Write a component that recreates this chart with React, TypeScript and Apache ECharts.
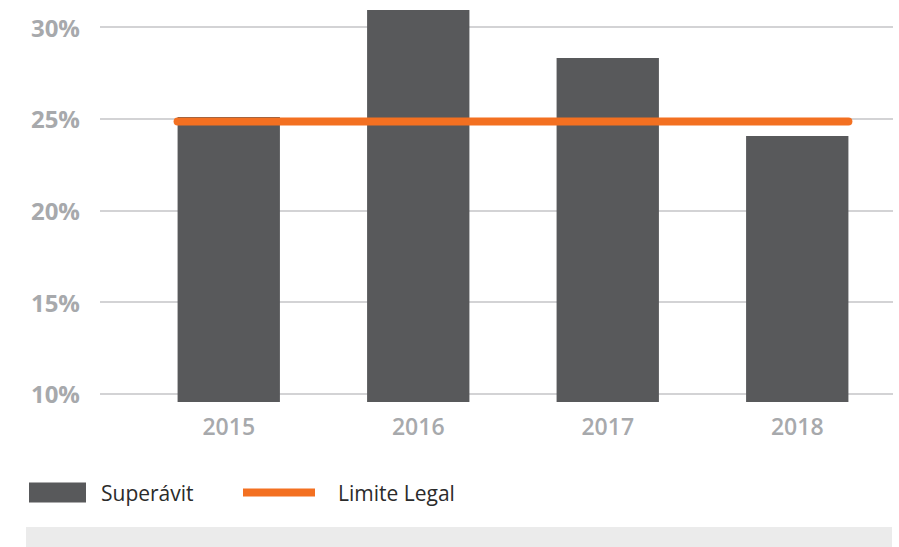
import React, { useEffect, useRef } from "react";
import * as echarts from "echarts";

const categories = ["2015", "2016", "2017", "2018"];
const superavit = [25.1, 30.93, 28.31, 24.06];
const limiteLegal = 24.85;
const yTicks = [10, 15, 20, 25, 30];
const seriesNames = ["Superávit", "Limite Legal"];

const Y_MIN = 9.564;
const Y_MAX = 31;
const BAR_FRACTION = 0.54;

export default function App() {
  const ref = useRef<HTMLDivElement>(null);
  useEffect(() => {
    const chart = echarts.init(ref.current!, null, { renderer: "svg" });
    const half = BAR_FRACTION / 2;
    const lineData = [
      [-half, limiteLegal],
      [categories.length - 1 + half, limiteLegal],
    ];
    const option: any = {
      animation: false,
      textStyle: { fontFamily: "Open Sans" },
      grid: [
        { left: 100, right: 6, top: 8.65, bottom: 145 },
        { left: 134, right: 7, top: 8.65, bottom: 145 },
      ],
      xAxis: [
        { type: "category", gridIndex: 0, data: categories, show: false },
        {
          type: "category",
          gridIndex: 1,
          data: categories,
          axisLine: { show: false },
          axisTick: { show: false },
          axisLabel: {
            color: "#a7a9ac",
            fontSize: 23,
            fontWeight: 600,
            fontFamily: "Open Sans",
            margin: 12,
          },
        },
        { type: "value", gridIndex: 1, min: -0.5, max: categories.length - 0.5, show: false },
      ],
      yAxis: [
        {
          type: "value",
          gridIndex: 0,
          min: Y_MIN,
          max: Y_MAX,
          axisLine: { show: false },
          axisTick: { show: false, customValues: yTicks },
          axisLabel: {
            customValues: yTicks,
            formatter: "{value}%",
            color: "#a7a9ac",
            fontSize: 24,
            fontWeight: "bold",
            fontFamily: "Open Sans",
            margin: 20,
          },
          splitLine: { show: true, lineStyle: { color: "#c4c5c7", width: 1.5 } },
        },
        { type: "value", gridIndex: 1, min: Y_MIN, max: Y_MAX, show: false },
      ],
      legend: [
        {
          data: [{ name: seriesNames[0], icon: "rect" }],
          left: 29,
          top: 482,
          padding: 0,
          itemWidth: 57,
          itemHeight: 20,
          textStyle: { fontSize: 21, color: "#2b2b2b", fontFamily: "Open Sans", padding: [0, 0, 0, 10] },
          selectedMode: false,
        },
        {
          data: [{ name: seriesNames[1], icon: "rect" }],
          left: 243,
          top: 482,
          padding: 0,
          itemWidth: 72,
          itemHeight: 8,
          textStyle: { fontSize: 21, color: "#2b2b2b", fontFamily: "Open Sans", padding: [0, 0, 0, 18] },
          selectedMode: false,
        },
      ],
      series: [
        {
          name: seriesNames[0],
          type: "bar",
          xAxisIndex: 1,
          yAxisIndex: 1,
          data: superavit,
          barWidth: BAR_FRACTION * 100 + "%",
          itemStyle: { color: "#58595b" },
        },
        {
          name: seriesNames[1],
          type: "line",
          xAxisIndex: 2,
          yAxisIndex: 1,
          data: lineData,
          symbol: "none",
          color: "#f37021",
          lineStyle: { color: "#f37021", width: 8, cap: "round" },
          itemStyle: { color: "#f37021" },
        },
      ],
      graphic: [
        {
          type: "rect",
          shape: { x: 26, y: 527, width: 866, height: 20 },
          style: { fill: "#ebebeb" },
          silent: true,
        },
      ],
    };
    chart.setOption(option);
    return () => chart.dispose();
  }, []);
  return (
    <div
      ref={ref}
      style={{ position: "fixed", left: 0, top: 0, width: 899, height: 547, background: "#fff" }}
    />
  );
}
